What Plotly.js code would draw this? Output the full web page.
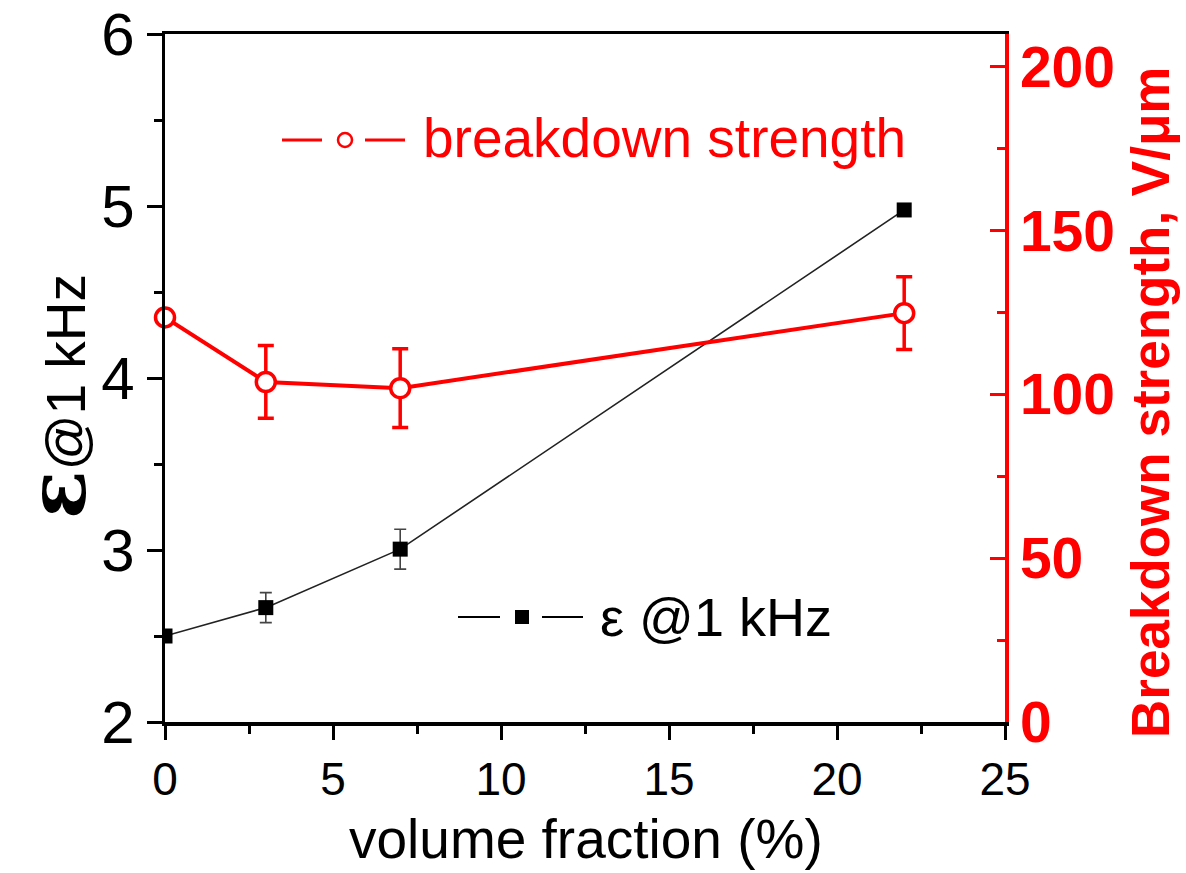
<!DOCTYPE html>
<html>
<head>
<meta charset="utf-8">
<script src="https://cdn.plot.ly/plotly-3.0.1.min.js"></script>
<style>html,body{margin:0;padding:0;background:#fff;}#chart{width:1186px;height:873px;}</style>
</head>
<body>
<div id="chart"></div>
<script>
// Data
const volumeFraction = [0, 3, 7, 22];
const epsilon1kHz = [2.50, 2.665, 3.005, 4.977];
const epsilonErr = [0, 0.087, 0.116, 0];
const breakdown = [123.5, 103.8, 101.9, 124.8];
const breakdownErr = [0, 11.1, 12.0, 11.1];

const xTickVals = [0, 5, 10, 15, 20, 25];
const yTickVals = [2, 3, 4, 5, 6];
const y2TickVals = [0, 50, 100, 150, 200];

const RED = '#ff0000';
const FONT = 'Liberation Sans, Arial, sans-serif';

const traces = [
  {
    x: volumeFraction, y: epsilon1kHz, type: 'scatter', mode: 'lines+markers',
    name: 'ε @ 1 kHz', yaxis: 'y', cliponaxis: true,
    line: {color: '#222', width: 1.6},
    marker: {symbol: 'square', size: 15, color: '#000'},
    error_y: {type: 'data', array: epsilonErr, visible: true, color: '#444', thickness: 1.6, width: 6}
  },
  {
    x: volumeFraction, y: breakdown, type: 'scatter', mode: 'lines+markers',
    name: 'breakdown strength', yaxis: 'y2', cliponaxis: false,
    line: {color: RED, width: 4},
    marker: {symbol: 'circle', size: 19, color: '#ffffff', line: {width: 3.5, color: RED}},
    error_y: {type: 'data', array: breakdownErr, visible: true, color: RED, thickness: 3.5, width: 8}
  }
];

function px(x){ return (x - 165) / 840; }
function py(y){ return (722 - y) / 688; }

const shapes = [
  // legend 1 (breakdown strength)
  {type: 'line', xref: 'paper', yref: 'paper', x0: px(282), x1: px(322), y0: py(140), y1: py(140), line: {color: RED, width: 3}},
  {type: 'circle', xref: 'paper', yref: 'paper', xsizemode: 'pixel', ysizemode: 'pixel',
   xanchor: px(345), yanchor: py(140), x0: -7, x1: 7, y0: -7, y1: 7, line: {color: RED, width: 2.5}, fillcolor: '#fff'},
  {type: 'line', xref: 'paper', yref: 'paper', x0: px(365), x1: px(405), y0: py(140), y1: py(140), line: {color: RED, width: 3}},
  // legend 2 (epsilon)
  {type: 'line', xref: 'paper', yref: 'paper', x0: px(458), x1: px(500), y0: py(617), y1: py(617), line: {color: '#000', width: 2}},
  {type: 'rect', xref: 'paper', yref: 'paper', xsizemode: 'pixel', ysizemode: 'pixel',
   xanchor: px(522), yanchor: py(617), x0: -7, x1: 7, y0: -7, y1: 7, line: {width: 0}, fillcolor: '#000'},
  {type: 'line', xref: 'paper', yref: 'paper', x0: px(542), x1: px(583), y0: py(617), y1: py(617), line: {color: '#000', width: 2}}
];

const annotations = [
  {xref: 'paper', yref: 'paper', x: px(421), y: py(138), xanchor: 'left', yanchor: 'middle', showarrow: false,
   text: 'breakdown strength', font: {family: FONT, size: 55, color: RED}},
  {xref: 'paper', yref: 'paper', x: px(598), y: py(617), xanchor: 'left', yanchor: 'middle', showarrow: false,
   text: 'ε @1 kHz', font: {family: FONT, size: 54, color: '#000'}},
  {xref: 'paper', yref: 'paper', x: px(57), y: py(397), xanchor: 'center', yanchor: 'middle', showarrow: false, textangle: -90,
   text: '<span style="font-family:DejaVu Serif;font-size:80px;font-weight:bold">ε</span>@1 kHz',
   font: {family: FONT, size: 55, color: '#000'}},
  {xref: 'paper', yref: 'paper', x: px(1151), y: py(403), xanchor: 'center', yanchor: 'middle', showarrow: false, textangle: -90,
   text: 'Breakdown strength, V/μm', font: {family: FONT, size: 53, color: RED, weight: 'bold'}},
  {xref: 'paper', yref: 'paper', x: px(586), y: py(839), xanchor: 'center', yanchor: 'middle', showarrow: false,
   text: 'volume fraction (%)', font: {family: FONT, size: 55, color: '#000'}}
];

const layout = {
  width: 1186, height: 873,
  margin: {l: 165, r: 181, t: 34, b: 151, pad: 0},
  paper_bgcolor: '#fff', plot_bgcolor: '#fff',
  showlegend: false,
  font: {family: FONT, color: '#000'},
  xaxis: {
    range: [0, 25], tickvals: xTickVals, ticktext: xTickVals.map(String),
    showgrid: false, zeroline: false, showline: true, linecolor: '#000', linewidth: 3.5, mirror: true,
    ticks: 'outside', ticklen: 14, tickwidth: 3, tickcolor: '#000',
    minor: {dtick: 2.5, ticks: 'outside', ticklen: 8, tickwidth: 3, tickcolor: '#000', showgrid: false},
    tickfont: {family: FONT, size: 46, color: '#000'}
  },
  yaxis: {
    range: [2, 6], tickvals: yTickVals, ticktext: yTickVals.map(String),
    showgrid: false, zeroline: false, showline: true, linecolor: '#000', linewidth: 3.5,
    ticks: 'outside', ticklen: 15, tickwidth: 3, tickcolor: '#000',
    minor: {dtick: 0.5, ticks: 'outside', ticklen: 8, tickwidth: 3, tickcolor: '#000', showgrid: false},
    tickfont: {family: FONT, size: 60, color: '#000'}
  },
  yaxis2: {
    range: [0, 210], overlaying: 'y', side: 'right', anchor: 'x',
    tickvals: y2TickVals, ticktext: y2TickVals.map(String),
    showgrid: false, zeroline: false, showline: true, linecolor: RED, linewidth: 3.5,
    ticks: 'inside', ticklen: 15, tickwidth: 3, tickcolor: RED,
    minor: {dtick: 25, ticks: 'inside', ticklen: 8, tickwidth: 3, tickcolor: RED, showgrid: false},
    tickfont: {family: FONT, size: 57, color: RED, weight: 'bold'}
  },
  shapes: shapes,
  annotations: annotations
};

Plotly.newPlot('chart', traces, layout, {displayModeBar: false, staticPlot: true});
</script>
</body>
</html>
